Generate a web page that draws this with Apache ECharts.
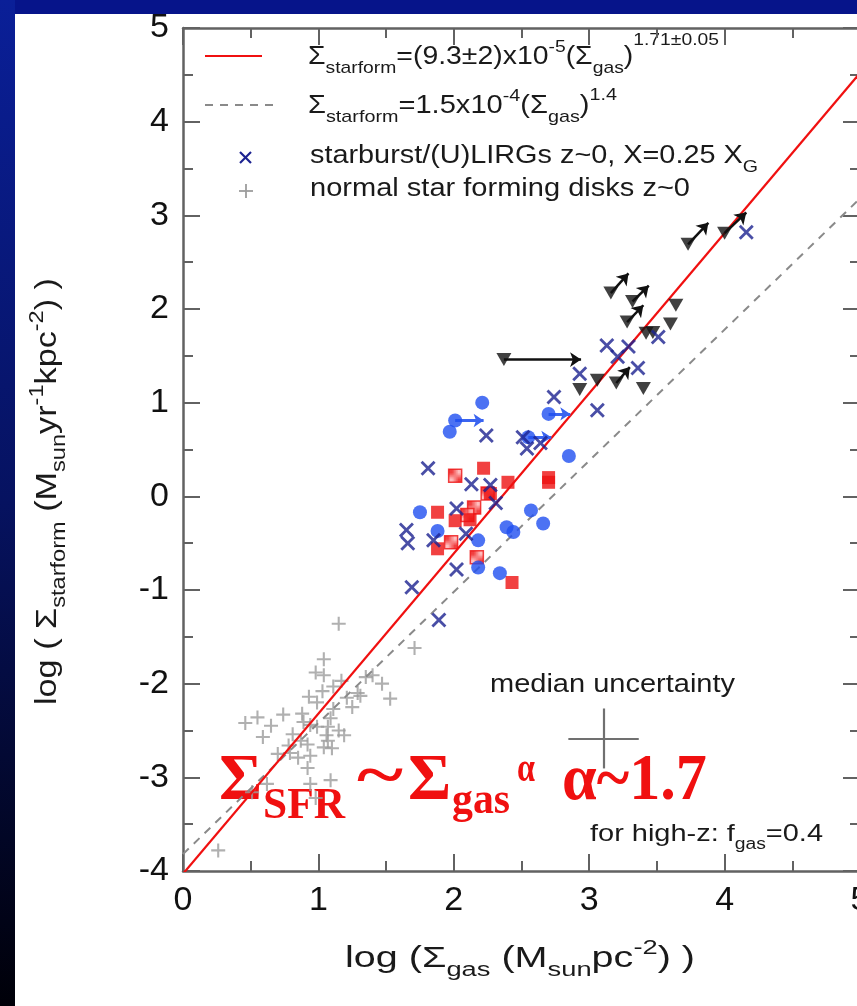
<!DOCTYPE html>
<html><head><meta charset="utf-8">
<script src="https://cdn.jsdelivr.net/npm/echarts@6/dist/echarts.min.js"></script>
<style>html,body{margin:0;padding:0;background:#fff;overflow:hidden}#c{width:857px;height:1006px}</style>
</head><body><div id="c"></div>
<script>
// ---------- data (log Σgas, log ΣSFR) ----------
const xTickLabels = ['0','1','2','3','4','5'];
const yTickLabels = ['-4','-3','-2','-1','0','1','2','3','4','5'];
const fitRed = [[0,-4.03],[5,4.52]];        // Σ=(9.3±2)e-5 Σgas^1.71
const fitDashed = [[0,-3.82],[5,3.18]];     // Σ=1.5e-4 Σgas^1.4
const normalDisks = [[1.15,-1.36],[1.71,-1.62],[1.04,-1.74],[0.98,-1.88],[1.04,-1.91],[1.17,-1.97],[1.40,-1.91],[1.47,-2.00],[1.35,-1.93],[1.29,-2.10],[1.31,-2.13],[1.53,-2.16],[1.21,-2.15],[0.93,-2.14],[1.03,-2.08],[1.11,-2.03],[1.11,-2.27],[0.88,-2.32],[0.74,-2.33],[0.99,-2.20],[1.09,-2.37],[0.89,-2.41],[0.94,-2.44],[0.65,-2.45],[0.99,-2.46],[1.07,-2.46],[1.15,-2.50],[1.19,-2.55],[0.59,-2.57],[0.81,-2.54],[0.87,-2.61],[0.92,-2.65],[1.07,-2.61],[1.10,-2.69],[1.04,-2.68],[0.70,-2.75],[0.79,-2.74],[0.85,-2.79],[0.94,-2.77],[0.62,-3.07],[0.94,-3.07],[1.09,-3.03],[0.98,-3.22],[0.51,-3.16],[0.26,-3.78],[0.92,-2.90],[1.06,-2.55],[0.46,-2.42],[0.55,-2.36],[1.25,-2.25],[0.78,-2.66]];
const starbursts = [[3.13,1.61],[3.29,1.60],[3.21,1.49],[3.51,1.70],[3.36,1.37],[2.93,1.31],[2.74,1.06],[3.06,0.92],[2.24,0.65],[2.51,0.63],[2.54,0.51],[2.64,0.57],[1.81,0.30],[2.13,0.13],[2.27,0.12],[2.31,-0.07],[2.02,-0.13],[1.65,-0.36],[1.66,-0.50],[1.85,-0.47],[2.09,-0.40],[2.02,-0.78],[1.69,-0.97],[1.89,-1.32],[4.16,2.82]];
const highzCircles = [[2.21,1.00],[2.01,0.81],[1.97,0.69],[2.70,0.88],[2.55,0.63],[2.85,0.43],[1.75,-0.17],[2.57,-0.15],[2.66,-0.29],[2.39,-0.33],[2.44,-0.38],[1.88,-0.37],[2.18,-0.47],[2.18,-0.76],[2.34,-0.82]];
const highzSquares = [[2.22,0.30],[2.40,0.15],[2.70,0.20],[2.70,0.15],[1.88,-0.17],[2.01,-0.26],[1.88,-0.56],[2.43,-0.92],[2.27,0.03],[2.12,-0.25]];
const highzHatched = [[2.01,0.22],[2.15,-0.12],[2.10,-0.20],[1.98,-0.49],[2.17,-0.65],[2.25,0.03]];
const smgTriangles = [[2.37,1.46],[2.93,1.14],[3.06,1.24],[3.20,1.21],[3.40,1.15],[3.42,1.74],[3.73,2.69],[4.00,2.81],[3.16,2.17],[3.32,2.08],[3.28,1.86],[3.64,2.04],[3.60,1.84],[3.47,1.75]];
const triangleArrows = [[[2.37,1.46],[2.94,1.46]],[[3.73,2.69],[3.88,2.92]],[[4.00,2.81],[4.16,3.03]],[[3.16,2.17],[3.29,2.38]],[[3.32,2.08],[3.44,2.25]],[[3.28,1.86],[3.40,2.04]],[[3.20,1.21],[3.30,1.38]]];
const circleArrows = [[[2.01,0.81],[2.22,0.81]],[[2.70,0.88],[2.86,0.88]],[[2.55,0.63],[2.72,0.63]]];
const medianErrCenter = [3.106,-2.585];
const medianErrHalf = [0.26,0.32];

// ---------- helpers ----------
const mctx = document.createElement('canvas').getContext('2d');
function run(parts, o) {
  const fam = o.family || '"Liberation Sans", Arial, sans-serif';
  const wt = o.weight || 'normal';
  const widths = parts.map(p => { mctx.font = wt + ' ' + p[1] + 'px ' + fam; return mctx.measureText(p[0]).width; });
  const nat = widths.reduce((a, b) => a + b, 0);
  const sx = o.width ? o.width / nat : 1;
  let cx = 0;
  const children = parts.map((p, i) => {
    const el = { type: 'text', x: cx, y: p[2] - 0.32 * p[1],
      style: { text: p[0], font: wt + ' ' + p[1] + 'px ' + fam, fill: o.fill || '#1a1a1a', align: 'left', verticalAlign: 'middle' } };
    cx += widths[i];
    return el;
  });
  return { type: 'group', x: o.x, y: o.y, scaleX: sx, rotation: o.rotation || 0, children, z: 100 };
}
const serif = '"Liberation Serif", "Times New Roman", serif';
const RED = '#f01010';

const pc = document.createElement('canvas'); pc.width = pc.height = 4;
const pg = pc.getContext('2d'); pg.fillStyle = '#ffb0b0'; pg.fillRect(0,0,4,4); pg.fillStyle = '#ee1111'; pg.fillRect(0,0,2,2); pg.fillRect(2,2,2,2);

const xSym = 'path://M0,1.6L1.6,0L6,4.4L10.4,0L12,1.6L7.6,6L12,10.4L10.4,12L6,7.6L1.6,12L0,10.4L4.4,6Z';
const plusSym = 'path://M5.1,0H6.9V5.1H12V6.9H6.9V12H5.1V6.9H0V5.1H5.1Z';

const axisLineCol = '#626262';
function axis(extra) {
  return Object.assign({
    type: 'value', splitLine: { show: false },
    axisLine: { show: true, onZero: false, lineStyle: { color: axisLineCol, width: 2.5 } },
    axisTick: { show: true, inside: true, length: 17, lineStyle: { color: axisLineCol, width: 2 } },
    minorTick: { show: true, splitNumber: 2, length: 10, lineStyle: { color: axisLineCol, width: 2 } },
    minorSplitLine: { show: false }
  }, extra);
}

const chart = echarts.init(document.getElementById('c'), null, { renderer: 'canvas' });
chart.setOption({
  animation: false,
  backgroundColor: '#ffffff',
  grid: { left: 183, top: 28, width: 677, height: 843, containLabel: false, outerBoundsMode: 'none' },
  xAxis: [
    axis({ min: 0, max: 5, interval: 1, position: 'bottom',
      axisLabel: { fontSize: 34, color: '#111', margin: 13, fontFamily: 'Liberation Sans', formatter: v => xTickLabels[Math.round(v)] } }),
    axis({ min: 0, max: 5, interval: 1, position: 'top', axisLabel: { show: false } })
  ],
  yAxis: [
    axis({ min: -4, max: 5, interval: 1, position: 'left',
      axisLabel: { fontSize: 34, color: '#111', margin: 14, fontFamily: 'Liberation Sans', formatter: v => yTickLabels[Math.round(v) + 4] } }),
    axis({ min: -4, max: 5, interval: 1, position: 'right', axisLabel: { show: false } })
  ],
  series: [
    { type: 'scatter', data: normalDisks, symbol: plusSym, symbolSize: 14, itemStyle: { color: '#9c9c9c' }, z: 2 },
    { type: 'line', data: fitDashed, showSymbol: false, lineStyle: { color: '#8a8a8a', width: 2, type: [8, 7] }, z: 3 },
    { type: 'line', data: fitRed, showSymbol: false, lineStyle: { color: RED, width: 2.2 }, z: 3 },
    { type: 'lines', coordinateSystem: 'cartesian2d', data: triangleArrows.map(c => ({ coords: c })),
      symbol: ['none', 'arrow'], symbolSize: 11, lineStyle: { color: '#111', width: 2.5, opacity: 1 }, z: 4 },
    { type: 'lines', coordinateSystem: 'cartesian2d', data: circleArrows.map(c => ({ coords: c })),
      symbol: ['none', 'arrow'], symbolSize: 10, lineStyle: { color: '#3a64f0', width: 3, opacity: 1 }, z: 4 },
    { type: 'lines', coordinateSystem: 'cartesian2d',
      data: [
        { coords: [[medianErrCenter[0] - medianErrHalf[0], medianErrCenter[1]], [medianErrCenter[0] + medianErrHalf[0], medianErrCenter[1]]] },
        { coords: [[medianErrCenter[0], medianErrCenter[1] - medianErrHalf[1]], [medianErrCenter[0], medianErrCenter[1] + medianErrHalf[1]]] }
      ], lineStyle: { color: '#707070', width: 2.2, opacity: 1 }, z: 4 },
    { type: 'scatter', data: highzHatched, symbol: 'rect', symbolSize: 13, itemStyle: { color: { image: pc, repeat: 'repeat' }, borderColor: '#ee1111', borderWidth: 1.5 }, z: 5 },
    { type: 'scatter', data: highzSquares, symbol: 'rect', symbolSize: 13, itemStyle: { color: '#ee1111' }, z: 5 },
    { type: 'scatter', data: highzCircles, symbol: 'circle', symbolSize: 14, itemStyle: { color: '#1f4ff0' }, z: 6 },
    { type: 'scatter', data: smgTriangles, symbol: 'triangle', symbolRotate: 180, symbolSize: [15, 13], itemStyle: { color: '#111' }, z: 6 },
    { type: 'scatter', data: starbursts, symbol: xSym, symbolSize: 15, itemStyle: { color: '#1c2290' }, z: 7 }
  ],
  graphic: [
    { type: 'rect', shape: { x: 0, y: 0, width: 857, height: 14 }, style: { fill: '#06148a' }, z: 200 },
    { type: 'rect', shape: { x: 0, y: 0, width: 15, height: 1006 },
      style: { fill: new echarts.graphic.LinearGradient(0, 0, 0, 1, [{ offset: 0, color: '#0a1f98' }, { offset: 0.5, color: '#061260' }, { offset: 1, color: '#000008' }]) }, z: 200 },
    // legend
    { type: 'line', shape: { x1: 205, y1: 56, x2: 262, y2: 56 }, style: { stroke: RED, lineWidth: 2 }, z: 100 },
    { type: 'line', shape: { x1: 205, y1: 105, x2: 278, y2: 105 }, style: { stroke: '#8a8a8a', lineWidth: 2, lineDash: [8, 7] }, z: 100 },
    { type: 'line', shape: { x1: 240, y1: 152, x2: 251, y2: 163 }, style: { stroke: '#1c2290', lineWidth: 2.2 }, z: 100 },
    { type: 'line', shape: { x1: 240, y1: 163, x2: 251, y2: 152 }, style: { stroke: '#1c2290', lineWidth: 2.2 }, z: 100 },
    { type: 'line', shape: { x1: 239, y1: 191, x2: 253, y2: 191 }, style: { stroke: '#9c9c9c', lineWidth: 1.8 }, z: 100 },
    { type: 'line', shape: { x1: 246, y1: 184, x2: 246, y2: 198 }, style: { stroke: '#9c9c9c', lineWidth: 1.8 }, z: 100 },
    run([['Σ',25,0],['starform',17,9],['=(9.3±2)x10',25,0],['-5',17,-12],['(Σ',25,0],['gas',17,9],[')',25,0],['1.71±0.05',17,-19]], { x: 308, y: 65, width: 411 }),
    run([['Σ',25,0],['starform',17,9],['=1.5x10',25,0],['-4',17,-12],['(Σ',25,0],['gas',17,9],[')',25,0],['1.4',17,-13]], { x: 308, y: 114, width: 309 }),
    run([['starburst/(U)LIRGs z~0, X=0.25 X',25,0],['G',17,9]], { x: 310, y: 164, width: 448 }),
    run([['normal star forming disks z~0',25,0]], { x: 310, y: 197, width: 380 }),
    // annotations
    run([['median uncertainty',25,0]], { x: 490, y: 693, width: 245 }),
    run([['for high-z: f',24,0],['gas',16,8],['=0.4',24,0]], { x: 590, y: 842, width: 233 }),
    // axis titles
    run([['log (Σ',29,0],['gas',20,9],[' (M',29,0],['sun',20,9],['pc',29,0],['-2',20,-13],[') )',29,0]], { x: 345, y: 968, width: 350 }),
    run([['log ( Σ',29,0],['starform',20,9],[' (M',29,0],['sun',20,9],['yr',29,0],['-1',20,-13],['kpc',29,0],['-2',20,-13],[') )',29,0]], { x: 57, y: 705, width: 427, rotation: Math.PI / 2 }),
    // big red formula
    run([['Σ',66,0]], { x: 219, y: 803, family: serif, weight: 'bold', fill: RED }),
    run([['SFR',44,0]], { x: 263, y: 821, width: 82, family: serif, weight: 'bold', fill: RED }),
    run([['~',66,0]], { x: 357, y: 800, width: 46, family: serif, weight: 'bold', fill: RED }),
    run([['Σ',66,0]], { x: 408, y: 803, family: serif, weight: 'bold', fill: RED }),
    run([['gas',44,0]], { x: 452, y: 816, width: 58, family: serif, weight: 'bold', fill: RED }),
    run([['α',40,0]], { x: 517, y: 783, width: 18, family: serif, weight: 'bold', fill: RED }),
    run([['α~1.7',66,0]], { x: 562, y: 803, width: 145, family: serif, weight: 'bold', fill: RED })
  ]
});
</script></body></html>
